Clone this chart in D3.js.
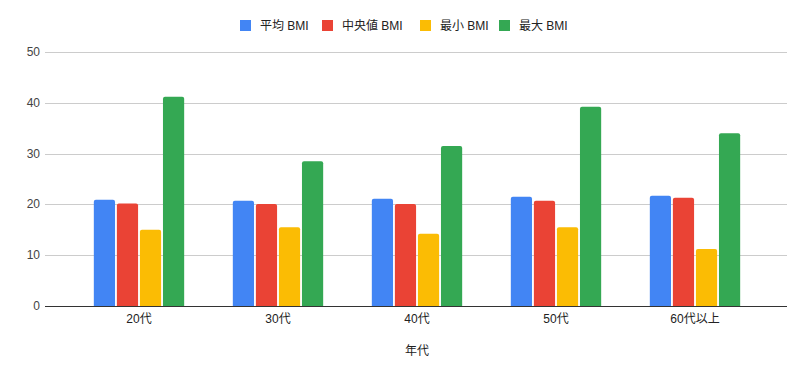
<!DOCTYPE html>
<html>
<head>
<meta charset="utf-8">
<script src="https://cdn.jsdelivr.net/npm/d3@7"></script>
<style>
  body { margin: 0; background: #fff; }
  text { font-family: Arial, "Liberation Sans", "Noto Sans CJK JP", sans-serif; }
</style>
</head>
<body>
<svg id="chart" width="806" height="377"></svg>
<script>
const categories = ["20代", "30代", "40代", "50代", "60代以上"];
const seriesNames = ["平均 BMI", "中央値 BMI", "最小 BMI", "最大 BMI"];
const meanBMI = [20.9, 20.7, 21.1, 21.5, 21.7];
const medianBMI = [20.2, 20.1, 20.1, 20.7, 21.3];
const minBMI = [15.0, 15.5, 14.2, 15.5, 11.2];
const maxBMI = [41.2, 28.5, 31.5, 39.2, 34.0];
const yTicks = [0, 10, 20, 30, 40, 50];
const colors = ["#4285F4", "#EA4335", "#FBBC04", "#34A853"];

const seriesValues = [meanBMI, medianBMI, minBMI, maxBMI];
const rows = categories.map((c, i) => ({
  cat: c,
  vals: seriesNames.map((s, j) => ({ key: s, value: seriesValues[j][i] }))
}));

const svg = d3.select("#chart");
const plot = { left: 45, right: 787, top: 52, bottom: 306 };

const y = d3.scaleLinear().domain([0, 50]).range([plot.bottom, plot.top]);
const x0 = d3.scaleBand().domain(categories).range([69.5, 764.5]).paddingInner(0.35).paddingOuter(0.175);
const x1 = d3.scaleBand().domain(seriesNames).range([0, x0.bandwidth()]).paddingInner(0.08);

// grid
svg.append("g")
  .selectAll("line")
  .data(yTicks.filter(t => t > 0))
  .enter().append("line")
  .attr("x1", plot.left).attr("x2", plot.right)
  .attr("y1", d => Math.round(y(d)) + 0.5).attr("y2", d => Math.round(y(d)) + 0.5)
  .attr("stroke", "#cccccc");

// y labels
svg.append("g")
  .selectAll("text")
  .data(yTicks)
  .enter().append("text")
  .attr("x", 40)
  .attr("y", d => y(d) + 4)
  .attr("text-anchor", "end")
  .attr("fill", "#444")
  .style("font-size", "12px")
  .text(d => d);

// bars with rounded tops
const r = 2;
function barPath(x, yTop, w, yBot) {
  return `M${x},${yBot}V${yTop + r}Q${x},${yTop} ${x + r},${yTop}H${x + w - r}Q${x + w},${yTop} ${x + w},${yTop + r}V${yBot}Z`;
}

const groups = svg.append("g")
  .selectAll("g")
  .data(rows)
  .enter().append("g")
  .attr("transform", d => `translate(${x0(d.cat)},0)`);

groups.selectAll("path")
  .data(d => d.vals)
  .enter().append("path")
  .attr("d", d => barPath(x1(d.key), y(d.value), x1.bandwidth(), y(0)))
  .attr("fill", (d, i) => colors[i]);

// baseline
svg.append("line")
  .attr("x1", plot.left).attr("x2", plot.right)
  .attr("y1", y(0) + 0.5).attr("y2", y(0) + 0.5)
  .attr("stroke", "#333").attr("stroke-width", 1);

// x labels
svg.append("g")
  .selectAll("text")
  .data(categories)
  .enter().append("text")
  .attr("x", d => x0(d) + x0.bandwidth() / 2)
  .attr("y", 323)
  .attr("text-anchor", "middle")
  .attr("fill", "#222")
  .style("font-size", "12px")
  .text(d => d);

svg.append("text")
  .attr("x", 417)
  .attr("y", 355)
  .attr("text-anchor", "middle")
  .attr("fill", "#222")
  .style("font-size", "12px")
  .text("年代");

// legend
const legendX = [240, 322, 420, 499];
const legend = svg.append("g")
  .selectAll("g")
  .data(seriesNames)
  .enter().append("g")
  .attr("transform", (d, i) => `translate(${legendX[i]},20)`);

legend.append("rect")
  .attr("width", 11).attr("height", 11)
  .attr("fill", (d, i) => colors[i]);

legend.append("text")
  .attr("x", 20)
  .attr("y", 10)
  .attr("fill", "#222")
  .style("font-size", "12px")
  .text(d => d);
</script>
</body>
</html>
